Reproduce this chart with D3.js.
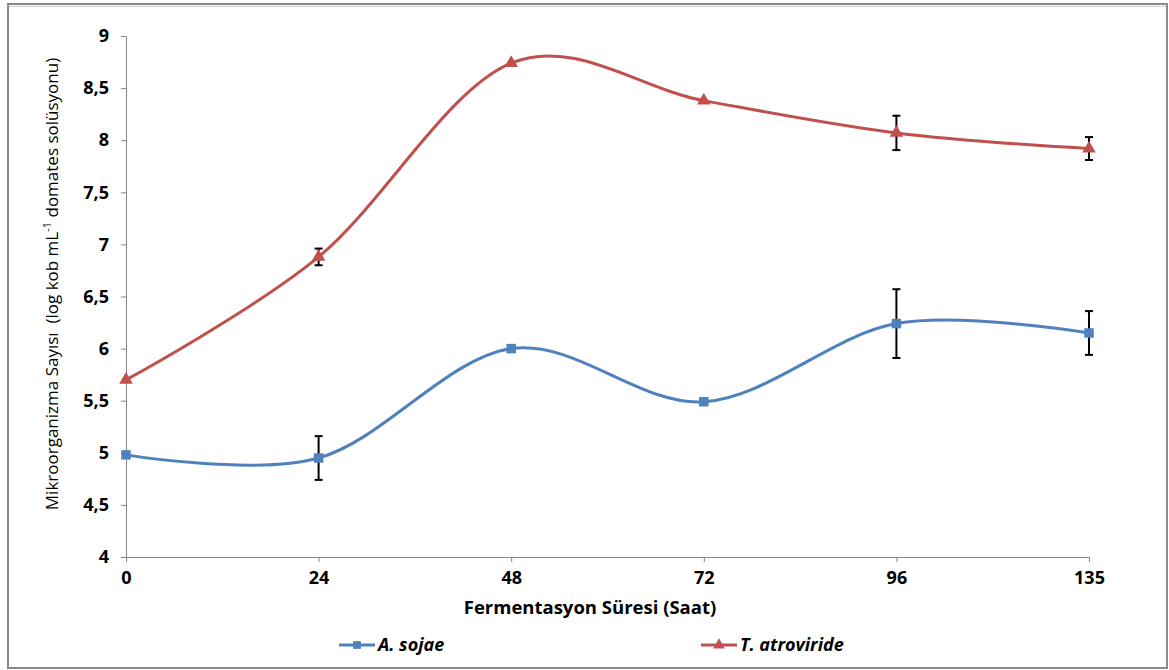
<!DOCTYPE html>
<html>
<head>
<meta charset="utf-8">
<script src="https://cdn.jsdelivr.net/npm/d3@7"></script>
<style>
  body { margin: 0; background: #fff; }
  text { font-family: "Open Sans", Lato, sans-serif; }
</style>
</head>
<body>
<script>
'use strict';

// chart data
const hours = ["0", "24", "48", "72", "96", "135"];
const sojae = [4.98, 4.95, 6.0, 5.49, 6.24, 6.15];
const sojaeErr = [0, 0.21, 0, 0, 0.33, 0.21];
const atroviride = [5.70, 6.88, 8.74, 8.38, 8.07, 7.92];
const atrovirideErr = [0, 0.08, 0, 0, 0.165, 0.11];
const yTicks = [4, 4.5, 5, 5.5, 6, 6.5, 7, 7.5, 8, 8.5, 9];

const width = 1169, height = 670;
const blue = "#4F81BD", red = "#C0504D";

const svg = d3.select("body").append("svg")
  .attr("width", width)
  .attr("height", height);

// outer frame
svg.append("rect")
  .attr("x", 8).attr("y", 4)
  .attr("width", 1159).attr("height", 664)
  .attr("fill", "none")
  .attr("stroke", "#8a8a8a")
  .attr("stroke-width", 2);
svg.append("line")
  .attr("x1", 9).attr("x2", 1166)
  .attr("y1", 6.5).attr("y2", 6.5)
  .attr("stroke", "#d0d0d0");

// scales
const x = d3.scalePoint().domain(hours).range([126, 1089]);
const y = d3.scaleLinear().domain([4, 9]).range([557, 36]);

// axes
const yAxis = d3.axisLeft(y).tickValues(yTicks).tickSize(5).tickPadding(12)
  .tickFormat(d => String(d).replace(".", ","));
const gy = svg.append("g").attr("transform", "translate(126,0)").call(yAxis);
const xAxis = d3.axisBottom(x).tickSize(5).tickPadding(9);
const gx = svg.append("g").attr("transform", "translate(0,557)").call(xAxis);

[gx, gy].forEach(g => {
  g.select(".domain").attr("stroke", "#868686");
  g.selectAll(".tick line").attr("stroke", "#868686");
  g.selectAll(".tick text")
    .attr("fill", "#000")
    .style("font-size", "18px")
    .style("font-weight", "bold");
});
gx.select(".domain").attr("d", "M126,0.5H1089");

// axis titles
svg.append("text")
  .attr("x", 590).attr("y", 614)
  .attr("text-anchor", "middle")
  .style("font-size", "18.5px")
  .style("font-weight", "bold")
  .text("Fermentasyon Süresi (Saat)");

const yTitle = svg.append("text")
  .attr("transform", "translate(58,284)rotate(-90)")
  .attr("text-anchor", "middle")
  .style("font-size", "17px")
  .style("white-space", "pre");
yTitle.append("tspan").text("Mikroorganizma Sayısı  (log kob mL");
yTitle.append("tspan").attr("dy", -7).style("font-size", "11px").text("-1");
yTitle.append("tspan").attr("dy", 7).text(" domates solüsyonu)");

// smooth line like excel
const line = d3.line()
  .x((d, i) => x(hours[i]))
  .y(d => y(d))
  .curve(d3.curveCardinal.tension(0));

function drawSeries(values, errs, color, marker) {
  svg.append("path")
    .datum(values)
    .attr("d", line)
    .attr("fill", "none")
    .attr("stroke", color)
    .attr("stroke-width", 3);

  // error bars
  const eb = svg.append("g").attr("stroke", "#000").attr("stroke-width", 2);
  values.forEach((v, i) => {
    if (!errs[i]) return;
    const cx = x(hours[i]);
    eb.append("line").attr("x1", cx).attr("x2", cx)
      .attr("y1", y(v + errs[i])).attr("y2", y(v - errs[i]));
    [v + errs[i], v - errs[i]].forEach(e => {
      eb.append("line").attr("x1", cx - 4).attr("x2", cx + 4)
        .attr("y1", y(e)).attr("y2", y(e));
    });
  });

  svg.selectAll(null)
    .data(values)
    .enter()
    .append("path")
    .attr("transform", (d, i) => `translate(${x(hours[i])},${y(d)})`)
    .attr("d", d3.symbol().type(marker).size(marker === d3.symbolSquare ? 90 : 80))
    .attr("fill", color);
}

drawSeries(sojae, sojaeErr, blue, d3.symbolSquare);
drawSeries(atroviride, atrovirideErr, red, d3.symbolTriangle);

// legend
const legend = [
  { name: "A. sojae", color: blue, marker: d3.symbolSquare, x: 339 },
  { name: "T. atroviride", color: red, marker: d3.symbolTriangle, x: 701 }
];
legend.forEach(l => {
  const g = svg.append("g").attr("transform", `translate(${l.x},645)`);
  g.append("line").attr("x1", 0).attr("x2", 36)
    .attr("stroke", l.color).attr("stroke-width", 3);
  g.append("path").attr("transform", "translate(18,0)")
    .attr("d", d3.symbol().type(l.marker).size(60))
    .attr("fill", l.color);
  g.append("text").attr("x", 39).attr("y", 6)
    .style("font-size", "18px")
    .style("font-weight", "bold")
    .style("font-style", "italic")
    .text(l.name);
});
</script>
</body>
</html>
